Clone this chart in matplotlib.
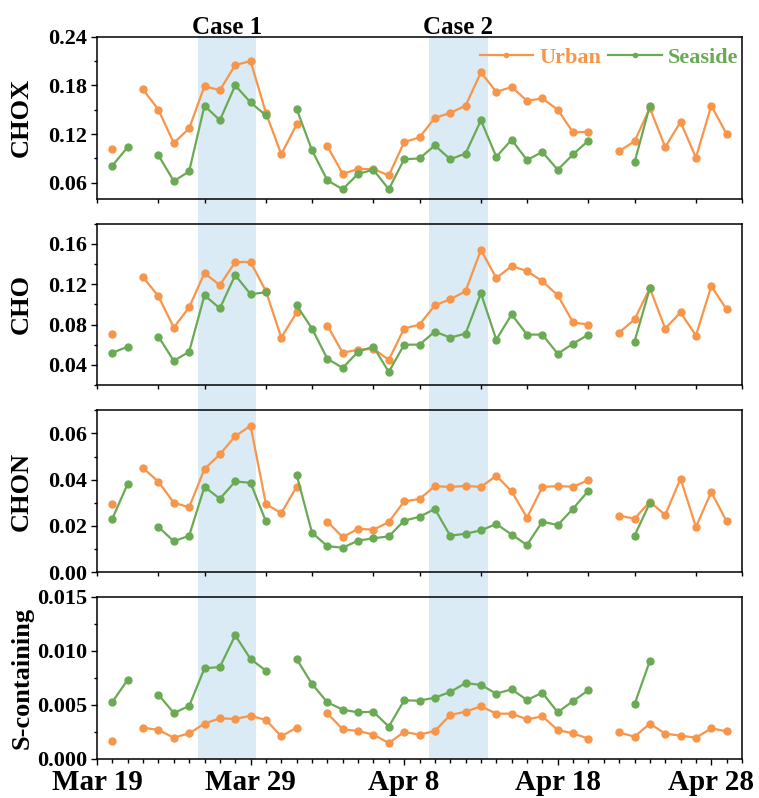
import numpy as np
import pandas as pd
import matplotlib
matplotlib.use("Agg")
import matplotlib.pyplot as plt
from matplotlib.ticker import MultipleLocator, FixedLocator, NullLocator
from matplotlib.patches import Rectangle
from matplotlib.transforms import blended_transform_factory

nan = np.nan

# daily samples, Mar 20 - Apr 29 (days 1..41 after Mar 19)
start = pd.Timestamp("2019-03-19")
dates = pd.date_range("2019-03-20", "2019-04-29", freq="D")
days = np.array([(d - start).days for d in dates], dtype=float)

chox_urban = [0.101, nan, 0.175, 0.150, 0.109, 0.127, 0.179, 0.174, 0.205, 0.210,
              0.146, 0.095, 0.132, nan, 0.105, 0.071, 0.077, 0.077, 0.069, 0.110,
              0.116, 0.140, 0.146, 0.155, 0.196, 0.172, 0.178, 0.161, 0.164, 0.150,
              0.122, 0.123, nan, 0.099, 0.111, 0.152, 0.104, 0.135, 0.091, 0.155, 0.120]
chox_seaside = [0.081, 0.104, nan, 0.094, 0.062, 0.074, 0.155, 0.137, 0.180, 0.159,
                0.143, nan, 0.151, 0.100, 0.063, 0.052, 0.071, 0.076, 0.052, 0.089,
                0.090, 0.106, 0.089, 0.096, 0.137, 0.092, 0.113, 0.088, 0.098, 0.076,
                0.095, 0.112, nan, nan, 0.085, 0.155, nan, nan, nan, nan, nan]

cho_urban = [0.071, nan, 0.127, 0.108, 0.077, 0.097, 0.131, 0.119, 0.142, 0.142,
             0.113, 0.067, 0.092, nan, 0.079, 0.052, 0.055, 0.056, 0.045, 0.076,
             0.080, 0.099, 0.105, 0.113, 0.154, 0.126, 0.138, 0.133, 0.123, 0.109,
             0.082, 0.080, nan, 0.072, 0.085, 0.116, 0.076, 0.092, 0.069, 0.118, 0.095]
cho_seaside = [0.052, 0.058, nan, 0.068, 0.044, 0.053, 0.109, 0.096, 0.129, 0.110,
               0.112, nan, 0.099, 0.076, 0.046, 0.037, 0.053, 0.058, 0.033, 0.060,
               0.060, 0.073, 0.067, 0.071, 0.111, 0.065, 0.090, 0.070, 0.070, 0.051,
               0.061, 0.070, nan, nan, 0.063, 0.116, nan, nan, nan, nan, nan]

chon_urban = [0.0294, nan, 0.0450, 0.0391, 0.0300, 0.0280, 0.0446, 0.0509, 0.0588, 0.0633,
              0.0294, 0.0255, 0.0369, nan, 0.0218, 0.0151, 0.0187, 0.0183, 0.0216, 0.0306,
              0.0316, 0.0372, 0.0368, 0.0373, 0.0368, 0.0417, 0.0349, 0.0235, 0.0368, 0.0372,
              0.0369, 0.0398, nan, 0.0244, 0.0231, 0.0304, 0.0247, 0.0404, 0.0195, 0.0346, 0.0219]
chon_seaside = [0.0231, 0.0382, nan, 0.0195, 0.0133, 0.0157, 0.0369, 0.0317, 0.0392, 0.0386,
                0.0219, nan, 0.0421, 0.0170, 0.0112, 0.0105, 0.0136, 0.0146, 0.0154, 0.0222,
                0.0239, 0.0273, 0.0157, 0.0166, 0.0180, 0.0208, 0.0162, 0.0117, 0.0218, 0.0203,
                0.0274, 0.0352, nan, nan, 0.0157, 0.0299, nan, nan, nan, nan, nan]

s_urban = [0.00163, nan, 0.00290, 0.00268, 0.00197, 0.00237, 0.00327, 0.00376, 0.00370, 0.00400,
           0.00360, 0.00210, 0.00290, nan, 0.00422, 0.00274, 0.00259, 0.00225, 0.00148, 0.00250,
           0.00225, 0.00259, 0.00407, 0.00437, 0.00487, 0.00419, 0.00419, 0.00367, 0.00394, 0.00268,
           0.00237, 0.00188, nan, 0.00246, 0.00206, 0.00327, 0.00234, 0.00216, 0.00197, 0.00283, 0.00256]
s_seaside = [0.00527, 0.00733, nan, 0.00595, 0.00425, 0.00490, 0.00838, 0.00850, 0.01143, 0.00924,
             0.00816, nan, 0.00924, 0.00693, 0.00524, 0.00456, 0.00431, 0.00437, 0.00299, 0.00542,
             0.00539, 0.00567, 0.00619, 0.00702, 0.00684, 0.00604, 0.00644, 0.00545, 0.00613, 0.00431,
             0.00536, 0.00635, nan, nan, 0.00505, 0.00906, nan, nan, nan, nan, nan]

panel_names = ["CHOX", "CHO", "CHON", "S-containing"]
urban_series = [chox_urban, cho_urban, chon_urban, s_urban]
seaside_series = [chox_seaside, cho_seaside, chon_seaside, s_seaside]
ylims = [(0.04, 0.24), (0.02, 0.18), (0.0, 0.07), (0.0, 0.015)]
ymajor = [[0.06, 0.12, 0.18, 0.24], [0.04, 0.08, 0.12, 0.16],
          [0.00, 0.02, 0.04, 0.06], [0.000, 0.005, 0.010, 0.015]]
ytick_labels = [["0.06", "0.12", "0.18", "0.24"], ["0.04", "0.08", "0.12", "0.16"],
                ["0.00", "0.02", "0.04", "0.06"], ["0.000", "0.005", "0.010", "0.015"]]
yminor = [0.03, 0.02, 0.01, 0.0025]

# episodes, in days after Mar 19
case_names = ["Case 1", "Case 2"]
case_spans = [(6.55, 10.35), (21.6, 25.45)]

xtick_days = [0, 10, 20, 30, 40]
xtick_labels = ["Mar 19", "Mar 29", "Apr 8", "Apr 18", "Apr 28"]
top_tick_days = [0, 4, 7, 11, 14, 18, 21, 25, 28, 32, 35, 39, 42]

c_urban = "#f7954a"
c_sea = "#6aaa55"
c_shade = "#daebf5"

plt.rcParams["font.family"] = ["Liberation Serif", "DejaVu Serif"]
plt.rcParams["font.weight"] = "bold"

fig = plt.figure(figsize=(7.59, 7.98), dpi=100)

left, width = 97 / 759, 645 / 759
tops = [36.7, 223.7, 410.3, 596.7]
bottoms = [199, 385, 572, 759]

axes = []
for i in range(4):
    ax = fig.add_axes([left, 1 - bottoms[i] / 798, width, (bottoms[i] - tops[i]) / 798])
    ax.set_facecolor("none")
    ax.plot(days, urban_series[i], "-o", color=c_urban, lw=1.6, ms=5, label="Urban")
    ax.plot(days, seaside_series[i], "-o", color=c_sea, lw=1.6, ms=5, label="Seaside")
    ax.set_xlim(0, 42)
    ax.set_ylim(*ylims[i])
    ax.set_yticks(ymajor[i])
    ax.set_yticklabels(ytick_labels[i])
    ax.yaxis.set_minor_locator(MultipleLocator(yminor[i]))
    ax.set_ylabel(panel_names[i], fontsize=19, fontweight="bold")
    ax.yaxis.set_label_coords(-0.099, 0.5)
    ax.tick_params(axis="y", which="major", direction="out", length=4, width=1,
                   labelsize=16, pad=3)
    ax.tick_params(axis="y", which="minor", direction="out", length=2.5, width=1)
    ax.tick_params(axis="x", which="both", direction="out", length=3, width=1)
    for sp in ax.spines.values():
        sp.set_linewidth(1.1)
    if i < 3:
        ax.xaxis.set_major_locator(FixedLocator(top_tick_days))
        ax.xaxis.set_minor_locator(NullLocator())
        ax.tick_params(axis="x", labelbottom=False)
    else:
        ax.set_xticks(xtick_days)
        ax.set_xticklabels(xtick_labels)
        ax.xaxis.set_minor_locator(MultipleLocator(1))
        ax.tick_params(axis="x", which="major", length=4, labelsize=21, pad=3)
    for lab in ax.get_xticklabels() + ax.get_yticklabels():
        lab.set_fontweight("bold")
    axes.append(ax)

# shaded episodes run across all four panels
fig_y0 = 1 - bottoms[3] / 798
fig_y1 = 1 - tops[0] / 798
trans = blended_transform_factory(axes[3].transData, fig.transFigure)
for (a, b), name in zip(case_spans, case_names):
    fig.add_artist(Rectangle((a, fig_y0), b - a, fig_y1 - fig_y0, transform=trans,
                             facecolor=c_shade, edgecolor="none", zorder=-1))
    axes[0].text((a + b) / 2, 1.016, name, fontsize=18, fontweight="bold",
                 ha="center", va="baseline",
                 transform=blended_transform_factory(axes[0].transData, axes[0].transAxes))

leg = axes[0].legend(loc="center right", bbox_to_anchor=(0.995, 0.869), ncol=2,
                     frameon=False, fontsize=16, handlelength=2.4, handletextpad=0.3,
                     columnspacing=0.3, borderpad=0, borderaxespad=0, markerscale=0.6)
for txt, col in zip(leg.get_texts(), [c_urban, c_sea]):
    txt.set_color(col)
    txt.set_fontweight("bold")

fig.savefig("out.png", dpi=100)
